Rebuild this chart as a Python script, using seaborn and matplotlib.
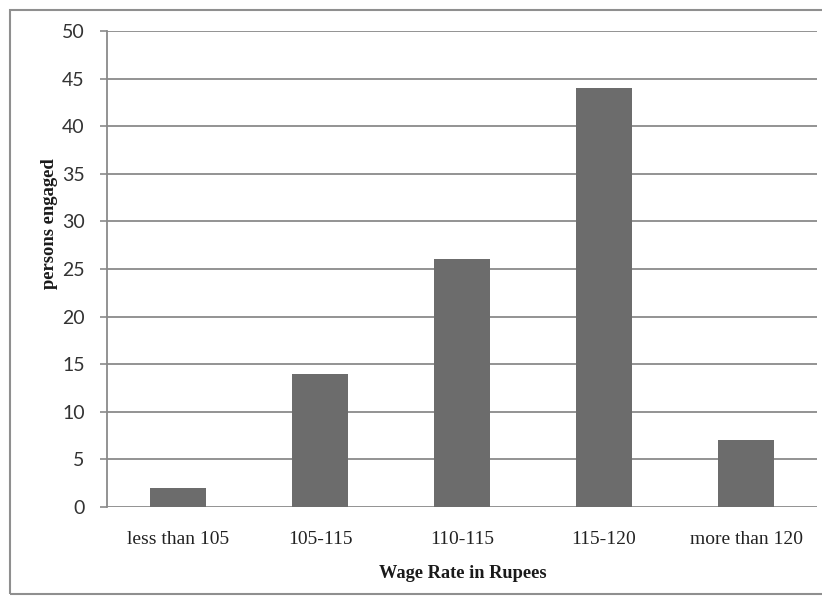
import matplotlib
matplotlib.use("Agg")
import matplotlib.pyplot as plt
from matplotlib.patches import Rectangle
import seaborn as sns
import pandas as pd

categories = ["less than 105", "105-115", "110-115", "115-120", "more than 120"]
persons = [2, 14, 26, 44, 7]
y_ticks = [0, 5, 10, 15, 20, 25, 30, 35, 40, 45, 50]

df = pd.DataFrame({"wage": categories, "persons": persons})

sns.set_theme(style="white")
W, H = 822, 597
fig = plt.figure(figsize=(W / 100, H / 100), dpi=100)
ax = fig.add_axes([107 / W, (H - 507) / H, (817 - 107) / W, (507 - 31) / H])

grid_col = "#8a8a8a"
ax.set_axisbelow(True)
for v in y_ticks:
    ax.axhline(v, color=grid_col, lw=1.3, zorder=0)

sns.barplot(data=df, x="wage", y="persons", order=categories, color="#6c6c6c",
            width=0.4, saturation=1, linewidth=0, ax=ax, zorder=2)

ax.set_ylim(0, 50)
ax.set_xlim(-0.5, len(categories) - 0.5)
ax.set_yticks(y_ticks)
ax.set_yticklabels([str(v) for v in y_ticks], fontfamily="Lato", fontsize=14, color="#333333")
ax.set_xticks(range(len(categories)))
ax.set_xticklabels(categories, fontfamily="Liberation Serif", fontsize=14, color="#222222")
ax.tick_params(axis="y", left=True, length=5, width=1.2, color=grid_col, pad=11)
ax.tick_params(axis="x", bottom=False, pad=11)

for s in ["top", "right", "bottom"]:
    ax.spines[s].set_visible(False)
ax.spines["left"].set_color(grid_col)
ax.spines["left"].set_linewidth(1.3)

ax.set_xlabel("")
ax.set_ylabel("")
fig.text(462.5 / W, 1 - 573 / H, "Wage Rate in Rupees", ha="center", va="center",
         fontfamily="Liberation Serif", fontweight="bold", fontsize=13.2, color="#1a1a1a")
fig.text(50 / W, 1 - 224 / H, "persons engaged", ha="center", va="center", rotation=90,
         fontfamily="Liberation Serif", fontweight="bold", fontsize=13.4, color="#1a1a1a")

fig.patches.append(Rectangle((9.5 / W, 1 - 594 / H), (830 - 9.5) / W, (594 - 9.5) / H,
                             transform=fig.transFigure, fill=False,
                             edgecolor="#8f8f8f", lw=1.5))

fig.savefig("out.png", dpi=100, facecolor="white")
